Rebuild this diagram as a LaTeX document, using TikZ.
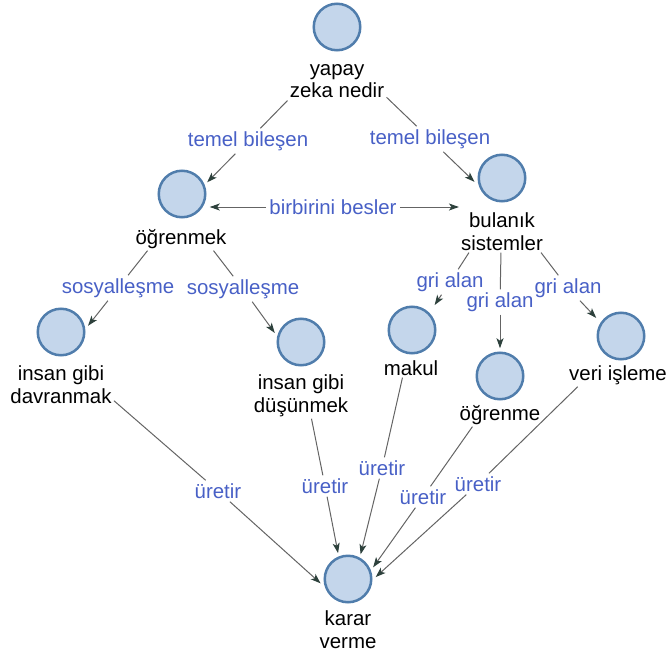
\documentclass[tikz,border=0pt]{standalone}
\usepackage{fontspec}
\setmainfont{Liberation Sans}
\usetikzlibrary{fit,arrows.meta}
\definecolor{cfill}{RGB}{196,214,235}
\definecolor{cdraw}{RGB}{80,125,172}
\definecolor{lblue}{RGB}{72,96,198}
\definecolor{lgray}{RGB}{100,100,100}
\definecolor{tipc}{RGB}{45,65,60}
\begin{document}
\begin{tikzpicture}[x=1bp,y=-1bp,
  conc/.style={circle, draw=cdraw, fill=cfill, line width=2.5bp, minimum size=46.5bp, inner sep=0pt, outer sep=4.5bp},
  ctext/.style={align=center, font=\fontsize{20.5}{23}\selectfont, inner sep=2bp, text=black},
  lnk/.style={font=\fontsize{20.5}{23}\selectfont, text=lblue, inner sep=3bp},
  cbox/.style={inner sep=0pt, draw=none},
  con/.style={draw=lgray, line width=1bp},
  arr/.style={con, -{Stealth[length=10bp, width=7bp, inset=2.5bp, color=tipc]}}]
\useasboundingbox (0,0) rectangle (668,659);

% concepts
\node[conc] (yc) at (337,27) {};
\node[ctext, anchor=base] (yt) at (337,98) {yapay\\zeka nedir};
\node[cbox, fit=(yc)(yt)] (Y) {};

\node[conc] (ogc) at (182,194) {};
\node[ctext, anchor=base] (ogt) at (181,244) {öğrenmek};
\node[cbox, fit=(ogc)(ogt)] (O) {};

\node[conc] (bc) at (502,178) {};
\node[ctext, anchor=base] (bt) at (502,250) {bulanık\\sistemler};
\node[cbox, fit=(bc)(bt)] (B) {};

\node[conc] (dvc) at (61,332) {};
\node[ctext, anchor=base] (dvt) at (61,403) {insan gibi\\davranmak};
\node[cbox, fit=(dvc)(dvt)] (DV) {};

\node[conc] (dsc) at (301,342) {};
\node[ctext, anchor=base] (dst) at (301,412) {insan gibi\\düşünmek};
\node[cbox, fit=(dsc)(dst)] (DS) {};

\node[conc] (mc) at (412,330) {};
\node[ctext, anchor=base] (mt) at (411,375) {makul};
\node[cbox, fit=(mc)(mt)] (M) {};

\node[conc] (oc) at (500,376) {};
\node[ctext, anchor=base] (ot) at (500,420) {öğrenme};
\node[cbox, fit=(oc)(ot)] (OE) {};

\node[conc] (vc) at (621,336) {};
\node[ctext, anchor=base] (vt) at (618,380) {veri işleme};
\node[cbox, fit=(vc)(vt)] (V) {};

\node[conc] (kc) at (348,579) {};
\node[ctext, anchor=base] (kt) at (348,648) {karar\\verme};

% linking phrases
\node[lnk] (l1) at (248,141) {temel bileşen};
\node[lnk] (l2) at (430,139) {temel bileşen};
\node[lnk] (l3) at (333,207) {birbirini besler};
\node[lnk] (l4) at (118,288) {sosyalleşme};
\node[lnk] (l5) at (243,289) {sosyalleşme};
\node[lnk] (l6) at (450,282) {gri alan};
\node[lnk] (l7) at (500,302) {gri alan};
\node[lnk] (l8) at (568,288) {gri alan};
\node[lnk] (u1) at (218,491) {üretir};
\node[lnk] (u2) at (325,486) {üretir};
\node[lnk] (u3) at (382,468) {üretir};
\node[lnk] (u4) at (423,497) {üretir};
\node[lnk] (u5) at (478,484) {üretir};

% connectors
\draw[con] (Y) -- (l1);  \draw[arr] (l1) -- (ogc.25);
\draw[con] (Y) -- (l2);  \draw[arr] (l2) -- (bc.188);
\draw[arr] (l3) -- (l3 -| ogc.east);
\draw[arr] (l3) -- (l3 -| bt.west);
\draw[con] (O) -- (l4);  \draw[arr] (l4) -- (dvc.13);
\draw[con] (O) -- (l5);  \draw[arr] (l5) -- (dsc.161);
\draw[con] (B) -- (l6);  \draw[arr, shorten >=6bp] (l6) -- (mc.46);
\draw[con] (B) -- (l7);  \draw[arr] (l7) -- (oc.90);
\draw[con] (B) -- (l8);  \draw[arr, shorten >=3bp] (l8) -- (vc.145);
\draw[con] (DV) -- (u1); \draw[arr] (u1) -- (kc.189);
\draw[con] (DS) -- (u2); \draw[arr] (u2) -- (kc.111);
\draw[con] (M) -- (u3);  \draw[arr] (u3) -- (kc.63);
\draw[con] (OE) -- (u4); \draw[arr] (u4) -- (kc.25);
\draw[con] (V) -- (u5);  \draw[arr] (u5) -- (kc.4);
\end{tikzpicture}
\end{document}
